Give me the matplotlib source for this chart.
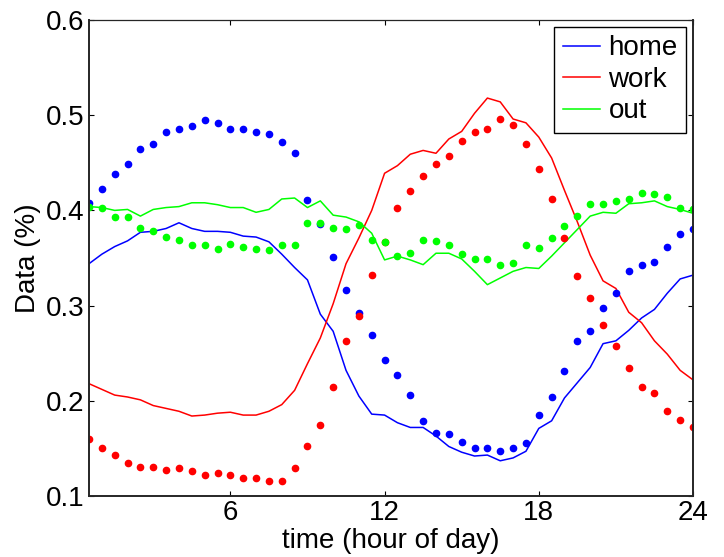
import matplotlib
matplotlib.use("Agg")
import matplotlib.pyplot as plt
import numpy as np

plt.rcParams['font.family'] = ['Liberation Sans', 'DejaVu Sans']

# half-hour bins, 0.5 .. 24
hours = np.arange(1, 49) * 0.5

home_line = [0.344, 0.354, 0.362, 0.368, 0.377, 0.378, 0.381, 0.387, 0.381, 0.378,
             0.378, 0.377, 0.373, 0.372, 0.367, 0.354, 0.340, 0.327, 0.291, 0.273,
             0.232, 0.205, 0.186, 0.185, 0.177, 0.172, 0.172, 0.163, 0.152, 0.146,
             0.142, 0.143, 0.137, 0.140, 0.147, 0.171, 0.179, 0.203, 0.219, 0.235,
             0.260, 0.263, 0.274, 0.287, 0.296, 0.313, 0.328, 0.332]
work_line = [0.218, 0.212, 0.206, 0.204, 0.201, 0.195, 0.192, 0.189, 0.184, 0.185,
             0.187, 0.188, 0.185, 0.185, 0.189, 0.196, 0.211, 0.239, 0.266, 0.302,
             0.344, 0.371, 0.400, 0.439, 0.447, 0.459, 0.463, 0.460, 0.475, 0.483,
             0.502, 0.518, 0.514, 0.496, 0.492, 0.477, 0.455, 0.421, 0.388, 0.353,
             0.326, 0.318, 0.293, 0.282, 0.263, 0.249, 0.232, 0.222]
out_line = [0.404, 0.403, 0.400, 0.401, 0.394, 0.401, 0.403, 0.404, 0.408, 0.408,
            0.406, 0.403, 0.403, 0.398, 0.401, 0.412, 0.413, 0.403, 0.410, 0.395,
            0.393, 0.388, 0.376, 0.348, 0.352, 0.348, 0.343, 0.355, 0.355, 0.349,
            0.336, 0.322, 0.329, 0.336, 0.340, 0.339, 0.352, 0.366, 0.380, 0.394,
            0.398, 0.397, 0.407, 0.408, 0.410, 0.404, 0.401, 0.397]

home_dots = [0.408, 0.423, 0.438, 0.449, 0.464, 0.470, 0.482, 0.485, 0.489, 0.495,
             0.492, 0.486, 0.485, 0.482, 0.480, 0.472, 0.460, 0.411, 0.386, 0.351,
             0.316, 0.292, 0.269, 0.243, 0.227, 0.206, 0.179, 0.166, 0.165, 0.157,
             0.150, 0.150, 0.147, 0.150, 0.156, 0.185, 0.204, 0.231, 0.263, 0.273,
             0.297, 0.313, 0.336, 0.343, 0.346, 0.362, 0.375, 0.380]
work_dots = [0.160, 0.150, 0.143, 0.135, 0.130, 0.130, 0.127, 0.129, 0.126, 0.122,
             0.124, 0.122, 0.119, 0.119, 0.116, 0.116, 0.129, 0.152, 0.175, 0.215,
             0.263, 0.289, 0.332, 0.367, 0.403, 0.420, 0.436, 0.449, 0.457, 0.473,
             0.482, 0.485, 0.496, 0.490, 0.470, 0.443, 0.412, 0.371, 0.331, 0.308,
             0.280, 0.258, 0.234, 0.214, 0.208, 0.189, 0.180, 0.172]
out_dots = [0.404, 0.403, 0.393, 0.393, 0.382, 0.378, 0.372, 0.369, 0.364, 0.364,
            0.359, 0.365, 0.362, 0.359, 0.358, 0.364, 0.364, 0.387, 0.387, 0.382,
            0.380, 0.385, 0.369, 0.367, 0.352, 0.355, 0.369, 0.368, 0.364, 0.354,
            0.349, 0.349, 0.343, 0.345, 0.364, 0.361, 0.371, 0.384, 0.394, 0.407,
            0.407, 0.410, 0.412, 0.418, 0.417, 0.414, 0.403, 0.401]

fig = plt.figure(figsize=(7.24, 5.57), dpi=100)
ax = fig.add_axes([89/724, 1-496/557, 604/724, 476/557])

ax.plot(hours, home_line, color=(0, 0, 1), lw=1.1, label='home')
ax.plot(hours, work_line, color=(1, 0, 0), lw=1.1, label='work')
ax.plot(hours, out_line, color=(0, 1, 0), lw=1.1, label='out')
ax.plot(hours, home_dots, '.', color=(0, 0, 1), ms=9, ls='none')
ax.plot(hours, work_dots, '.', color=(1, 0, 0), ms=9, ls='none')
ax.plot(hours, out_dots, '.', color=(0, 1, 0), ms=9, ls='none')

ax.set_xlim(0.5, 24)
ax.set_ylim(0.1, 0.6)
ax.set_xticks([6, 12, 18, 24])
ax.set_yticks([0.1, 0.2, 0.3, 0.4, 0.5, 0.6])
ax.set_yticklabels(['0.1', '0.2', '0.3', '0.4', '0.5', '0.6'])
ax.tick_params(direction='in', top=True, right=True, length=3.6, width=0.8,
               labelsize=20, pad=3)
for s in ax.spines.values():
    s.set_linewidth(1.4)
    s.set_color('#262626')
ax.spines['top'].set_linewidth(0.9)

ax.set_xlabel('time (hour of day)', fontsize=20, labelpad=1)
ax.set_ylabel('Data (%)', fontsize=20, labelpad=4)

leg = ax.legend(loc='upper right', fontsize=20, fancybox=False, framealpha=1,
                edgecolor='black', borderaxespad=0.25, handlelength=1.35,
                handletextpad=0.3, labelspacing=0.2, borderpad=0.3)
leg.get_frame().set_linewidth(1.0)

fig.savefig('out.png', dpi=100)
